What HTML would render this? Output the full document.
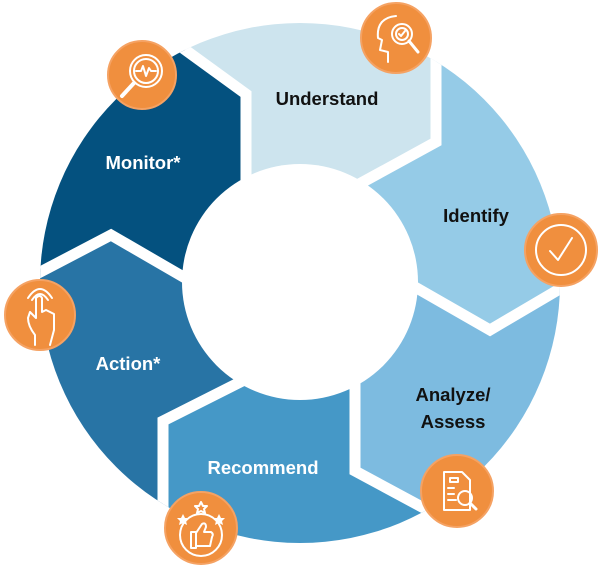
<!DOCTYPE html>
<html><head><meta charset="utf-8"><style>
html,body{margin:0;padding:0;background:#fff;width:600px;height:568px;overflow:hidden;}
svg{display:block}
text{font-family:"Liberation Sans",sans-serif;font-weight:bold;font-size:18.5px;text-anchor:middle}
</style></head><body>
<svg width="600" height="568" viewBox="0 0 600 568" xmlns="http://www.w3.org/2000/svg">
<defs><clipPath id="c"><circle cx="300" cy="283" r="260"/></clipPath></defs>
<g clip-path="url(#c)">
<polygon fill="#cde4ee" points="140,17 246,94 246,230 300,282 330,200 436,142 436,0 140,0"/>
<polygon fill="#95cbe7" points="436,0 436,142 330,200 300,282 380,267 490,330 598,267 598,0"/>
<polygon fill="#7dbbe0" points="598,267 490,330 380,267 300,282 355,300 355,471 420,506 535,567 598,567"/>
<polygon fill="#4598c7" points="535,567 420,506 355,471 355,300 300,282 280,362 163,421 163,567"/>
<polygon fill="#2874a5" points="163,567 163,421 280,362 300,282 230,304 111,235 2,292 2,567"/>
<polygon fill="#04517f" points="2,292 111,235 230,304 300,282 246,230 246,94 140,17 2,2"/>
<g fill="none" stroke="#fff" stroke-width="11" stroke-linejoin="miter">
<polyline points="140,17 246,94 246,230"/>
<polyline points="436,2 436,142 330,200"/>
<polyline points="590,271 490,330 380,267"/>
<polyline points="530,564 420,506 355,471 355,300"/>
<polyline points="163,564 163,421 280,362"/>
<polyline points="8,289 111,235 230,304"/>
</g>
</g>
<circle cx="300" cy="282" r="118" fill="#fff"/>
<text x="327" y="105" fill="#111">Understand</text>
<text x="143" y="169" fill="#fff">Monitor*</text>
<text x="476" y="222" fill="#111">Identify</text>
<text x="453" y="401" fill="#111">Analyze/</text>
<text x="453" y="428" fill="#111">Assess</text>
<text x="128" y="370" fill="#fff">Action*</text>
<text x="263" y="474" fill="#fff">Recommend</text>
<g fill="#f08f3e" stroke="#f5a263" stroke-width="2">
<circle cx="142" cy="75" r="34"/>
<circle cx="396" cy="38" r="35"/>
<circle cx="561" cy="250" r="36"/>
<circle cx="40" cy="315" r="35"/>
<circle cx="201" cy="528" r="36"/>
<circle cx="457" cy="491" r="36"/>
</g>
<g fill="none" stroke="#fff" stroke-width="2" stroke-linecap="round" stroke-linejoin="round">
<circle cx="146" cy="71" r="16"/><circle cx="146" cy="71" r="12"/>
<line x1="134" y1="83" x2="122" y2="96" stroke-width="4"/>
<polyline points="136,71 141,71 143,66 146,76 149,68 151,71 156,71"/>
<path d="M388 62 V52 L380 50 L382 40 L378 38 Q376 18 396 16"/>
<circle cx="402" cy="34" r="10"/><circle cx="402" cy="34" r="6"/>
<polyline points="399,34 401,36 405,31"/>
<line x1="409" y1="41" x2="418" y2="52" stroke-width="3"/>
<circle cx="561" cy="250" r="25"/>
<polyline points="550,251 558,260 572,238"/>
<path d="M35 345 V335 Q28 326 28 318 L30 312 L36 318 V298 Q40 294 42 298 V312 L46 310 L50 312 L54 314 V330 L50 345"/>
<path d="M32 300 Q40 288 48 300"/><path d="M28 298 Q40 280 52 298"/>
<circle cx="201" cy="535" r="21"/>
<path d="M191 548 V532 H196 V548 Z M196 533 L202 524 Q206 522 206 527 L204 532 H211 Q214 534 212 537 L210 546 H196"/>
<path d="M201 502 l2 4 4 0 -3 3 1 4 -4 -2 -4 2 1 -4 -3 -3 4 0 z"/>
<path d="M444 472 H462 L470 480 V510 H444 Z M450 478 H458 V482 H450 Z M448 488 H454 M448 494 H454 M448 500 H456"/>
<circle cx="465" cy="498" r="7"/>
<line x1="470" y1="503" x2="476" y2="509" stroke-width="3"/>
</g>
<g fill="#fff">
<polygon points="183,514 185,518 189,518 186,521 187,525 183,523 179,525 180,521 177,518 181,518"/>
<polygon points="219,514 221,518 225,518 222,521 223,525 219,523 215,525 216,521 213,518 217,518"/>
</g>
</svg>
</body></html>
